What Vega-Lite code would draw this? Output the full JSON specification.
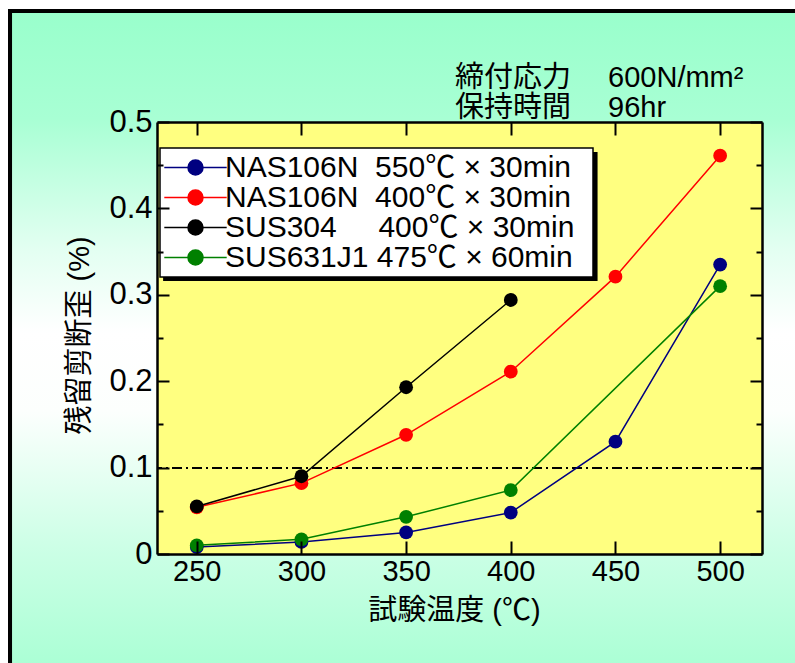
{
  "$schema": "https://vega.github.io/schema/vega-lite/v6.json",
  "width": 605,
  "height": 432,
  "autosize": {"type": "none"},
  "padding": {"left": 157, "top": 122, "right": 33, "bottom": 109},
  "background": "white",
  "config": {
    "view": {"stroke": null},
    "font": "Liberation Sans, Noto Sans CJK JP"
  },
  "title": {
    "text": ["締付応力\u3000 600N/mm²", "保持時間\u3000 96hr"],
    "anchor": "end",
    "align": "left",
    "frame": "group",
    "dx": -307,
    "dy": 143,
    "offset": 0,
    "baseline": "bottom",
    "lineHeight": 30,
    "fontSize": 29,
    "font": "Liberation Sans, Noto Sans CJK JP",
    "fontWeight": "normal",
    "color": "black"
  },
  "data": {
    "values": [
      {"s": "NAS106N\u00a0\u00a0550℃\u00a0×\u00a030min\u00a0\u00a0\u200b", "t": 250, "v": 0.008},
      {"s": "NAS106N\u00a0\u00a0550℃\u00a0×\u00a030min\u00a0\u00a0\u200b", "t": 300, "v": 0.014},
      {"s": "NAS106N\u00a0\u00a0550℃\u00a0×\u00a030min\u00a0\u00a0\u200b", "t": 350, "v": 0.025},
      {"s": "NAS106N\u00a0\u00a0550℃\u00a0×\u00a030min\u00a0\u00a0\u200b", "t": 400, "v": 0.048},
      {"s": "NAS106N\u00a0\u00a0550℃\u00a0×\u00a030min\u00a0\u00a0\u200b", "t": 450, "v": 0.130},
      {"s": "NAS106N\u00a0\u00a0550℃\u00a0×\u00a030min\u00a0\u00a0\u200b", "t": 500, "v": 0.335},
      {"s": "NAS106N\u00a0\u00a0400℃\u00a0×\u00a030min", "t": 250, "v": 0.054},
      {"s": "NAS106N\u00a0\u00a0400℃\u00a0×\u00a030min", "t": 300, "v": 0.082},
      {"s": "NAS106N\u00a0\u00a0400℃\u00a0×\u00a030min", "t": 350, "v": 0.138},
      {"s": "NAS106N\u00a0\u00a0400℃\u00a0×\u00a030min", "t": 400, "v": 0.211},
      {"s": "NAS106N\u00a0\u00a0400℃\u00a0×\u00a030min", "t": 450, "v": 0.321},
      {"s": "NAS106N\u00a0\u00a0400℃\u00a0×\u00a030min", "t": 500, "v": 0.461},
      {"s": "SUS304\u00a0\u00a0\u00a0\u00a0\u00a0400℃\u00a0×\u00a030min", "t": 250, "v": 0.055},
      {"s": "SUS304\u00a0\u00a0\u00a0\u00a0\u00a0400℃\u00a0×\u00a030min", "t": 300, "v": 0.090},
      {"s": "SUS304\u00a0\u00a0\u00a0\u00a0\u00a0400℃\u00a0×\u00a030min", "t": 350, "v": 0.193},
      {"s": "SUS304\u00a0\u00a0\u00a0\u00a0\u00a0400℃\u00a0×\u00a030min", "t": 400, "v": 0.294},
      {"s": "SUS631J1\u00a0475℃\u00a0×\u00a060min", "t": 250, "v": 0.010},
      {"s": "SUS631J1\u00a0475℃\u00a0×\u00a060min", "t": 300, "v": 0.017},
      {"s": "SUS631J1\u00a0475℃\u00a0×\u00a060min", "t": 350, "v": 0.043},
      {"s": "SUS631J1\u00a0475℃\u00a0×\u00a060min", "t": 400, "v": 0.074},
      {"s": "SUS631J1\u00a0475℃\u00a0×\u00a060min", "t": 500, "v": 0.310}
    ]
  },
  "resolve": {"axis": {"x": "independent", "y": "independent"}},
  "layer": [
    {
      "mark": {
        "type": "rect",
        "fill": {
          "gradient": "linear",
          "x1": 0, "y1": 0, "x2": 0, "y2": 1,
          "stops": [
            {"offset": 0, "color": "#99FFCC"},
            {"offset": 0.15, "color": "#A8FFD4"},
            {"offset": 0.33, "color": "#E2FFF1"},
            {"offset": 0.45, "color": "#FFFFFF"},
            {"offset": 0.56, "color": "#FCFFFD"},
            {"offset": 0.75, "color": "#CCFFE6"},
            {"offset": 1, "color": "#99FFCC"}
          ]
        },
        "stroke": "black",
        "strokeWidth": 4
      },
      "encoding": {
        "x": {"datum": 160.8, "type": "quantitative", "scale": {"domain": [231, 520], "nice": false, "zero": false}, "axis": null},
        "x2": {"datum": 560},
        "y": {"datum": 0.6285, "type": "quantitative", "scale": {"domain": [0, 0.5], "nice": false, "zero": false}, "axis": {
          "orient": "left", "values": [0.05, 0.15, 0.25, 0.35, 0.45], "labels": false, "domain": false, "grid": false,
          "tickSize": -6, "tickWidth": 2, "tickColor": "black", "title": null, "zindex": 1
        }},
        "y2": {"datum": -0.2}
      }
    },
    {
      "mark": {"type": "rect", "fill": "#FFFF80"},
      "encoding": {
        "x": {"datum": 231, "type": "quantitative", "scale": {"domain": [231, 520], "nice": false, "zero": false}, "axis": null},
        "x2": {"datum": 520},
        "y": {"datum": 0, "type": "quantitative", "scale": {"domain": [0, 0.5], "nice": false, "zero": false}, "axis": {
          "orient": "right", "values": [0.05, 0.15, 0.25, 0.35, 0.45], "labels": false, "domain": false, "grid": false,
          "tickSize": -6, "tickWidth": 2, "tickColor": "black", "title": null, "zindex": 1
        }},
        "y2": {"datum": 0.5}
      }
    },
    {
      "mark": {"type": "rule", "color": "black", "strokeWidth": 1.2, "strokeDash": [10, 4, 2, 4]},
      "encoding": {
        "y": {"datum": 0.1, "type": "quantitative", "scale": {"domain": [0, 0.5], "nice": false, "zero": false}, "axis": null}
      }
    },
    {
      "mark": {"type": "line", "strokeWidth": 1.5},
      "encoding": {
        "x": {
          "field": "t", "type": "quantitative",
          "scale": {"domain": [231, 520], "nice": false, "zero": false},
          "axis": {
            "orient": "bottom", "values": [250, 300, 350, 400, 450, 500],
            "tickSize": -13, "tickWidth": 2, "tickColor": "black",
            "domain": true, "domainColor": "black", "domainWidth": 2.5,
            "grid": false, "labelPadding": 16, "labelFontSize": 29, "labelFont": "Liberation Sans",
            "labelColor": "black", "labelFlush": false, "labelOverlap": false,
            "title": "試験温度 (℃)", "titleFontSize": 29, "titleFont": "Liberation Sans, Noto Sans CJK JP",
            "titleFontWeight": "normal", "titleColor": "black", "titleX": 297, "titleY": 65,
            "titleBaseline": "alphabetic", "titleAlign": "center", "zindex": 1
          }
        },
        "y": {
          "field": "v", "type": "quantitative",
          "scale": {"domain": [0, 0.5], "nice": false, "zero": false},
          "axis": {
            "orient": "left", "values": [0, 0.1, 0.2, 0.3, 0.4, 0.5], "format": "~g",
            "tickSize": -12, "tickWidth": 2, "tickColor": "black",
            "domain": true, "domainColor": "black", "domainWidth": 2.5,
            "grid": false, "labelPadding": 17, "labelFontSize": 31, "labelFont": "Liberation Sans",
            "labelColor": "black", "labelFlush": false, "labelOverlap": false, "labelBaseline": "middle",
            "title": "残留剪断歪 (%)", "titleFontSize": 29, "titleFont": "Liberation Sans, Noto Sans CJK JP",
            "titleFontWeight": "normal", "titleColor": "black", "titleAngle": 270,
            "titleX": -78, "titleY": 213, "titleBaseline": "middle", "titleAlign": "center", "zindex": 1
          }
        },
        "color": {
          "field": "s", "type": "nominal",
          "scale": {
            "domain": ["NAS106N\u00a0\u00a0550℃\u00a0×\u00a030min\u00a0\u00a0\u200b", "NAS106N\u00a0\u00a0400℃\u00a0×\u00a030min", "SUS304\u00a0\u00a0\u00a0\u00a0\u00a0400℃\u00a0×\u00a030min", "SUS631J1\u00a0475℃\u00a0×\u00a060min"],
            "range": ["#000080", "#FF0000", "#000000", "#008000"]
          },
          "legend": {
            "orient": "none", "legendX": 3, "legendY": 26,
            "title": null,
            "fillColor": "white", "strokeColor": "black",
            "padding": 4.5, "rowPadding": -1,
            "symbolType": "M-2.6,0L2.6,0M-0.625,0A0.625,0.625,0,1,0,0.625,0A0.625,0.625,0,1,0,-0.625,0Z",
            "symbolSize": 576, "symbolOffset": 16,
            "labelOffset": 14.5, "labelFontSize": 30, "labelFont": "Liberation Sans, Noto Sans CJK JP",
            "labelColor": "black", "labelLimit": 700,
            "encode": {
              "legend": {"update": {"strokeWidth": {"value": 1.5}}},
              "symbols": {
                "update": {
                  "fill": {"scale": "color", "field": "value"},
                  "stroke": {"scale": "color", "field": "value"},
                  "strokeWidth": {"value": 1.5},
                  "opacity": {"value": 1},
                  "fillOpacity": {"value": 1},
                  "strokeOpacity": {"value": 1}
                }
              }
            }
          }
        }
      }
    },
    {
      "mark": {"type": "point", "filled": true, "size": 190, "opacity": 1, "strokeWidth": 0},
      "encoding": {
        "x": {
          "field": "t", "type": "quantitative",
          "scale": {"domain": [231, 520], "nice": false, "zero": false},
          "axis": {
            "orient": "top", "values": [250, 300, 350, 400, 450, 500], "labels": false,
            "tickSize": -13, "tickWidth": 2, "tickColor": "black",
            "domain": true, "domainColor": "black", "domainWidth": 2.5, "grid": false, "title": null, "zindex": 1
          }
        },
        "y": {
          "field": "v", "type": "quantitative",
          "scale": {"domain": [0, 0.5], "nice": false, "zero": false},
          "axis": {
            "orient": "right", "values": [0, 0.1, 0.2, 0.3, 0.4, 0.5], "labels": false,
            "tickSize": -12, "tickWidth": 2, "tickColor": "black",
            "domain": true, "domainColor": "black", "domainWidth": 2.5, "grid": false, "title": null, "zindex": 1
          }
        },
        "color": {"field": "s", "type": "nominal"}
      }
    },
    {
      "mark": {"type": "rect", "fill": "black"},
      "encoding": {
        "x": {"datum": 234.3, "type": "quantitative", "scale": {"domain": [231, 520], "nice": false, "zero": false}, "axis": null},
        "x2": {"datum": 441.2},
        "y": {"datum": 0.4653, "type": "quantitative", "scale": {"domain": [0, 0.5], "nice": false, "zero": false}, "axis": null},
        "y2": {"datum": 0.316}
      }
    }
  ]
}
